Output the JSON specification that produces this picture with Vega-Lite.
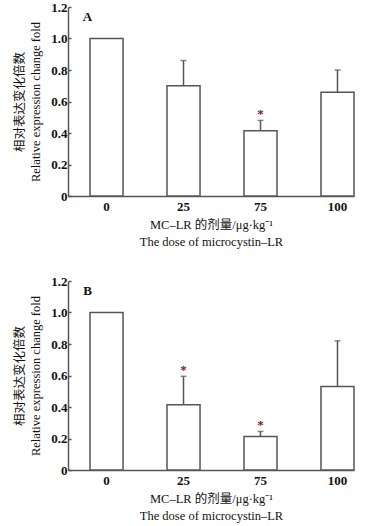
{
  "$schema": "https://vega.github.io/schema/vega-lite/v6.json",
  "padding": {"left": 13, "top": 1, "right": 5, "bottom": 2},
  "spacing": 27,
  "datasets": {
    "A": [
      {"dose": "0", "mean": 1.0, "hi": null, "sig": false},
      {"dose": "25", "mean": 0.70, "hi": 0.86, "sig": false},
      {"dose": "75", "mean": 0.415, "hi": 0.48, "sig": true},
      {"dose": "100", "mean": 0.658, "hi": 0.80, "sig": false}
    ],
    "B": [
      {"dose": "0", "mean": 1.0, "hi": null, "sig": false},
      {"dose": "25", "mean": 0.415, "hi": 0.595, "sig": true},
      {"dose": "75", "mean": 0.213, "hi": 0.245, "sig": true},
      {"dose": "100", "mean": 0.53, "hi": 0.82, "sig": false}
    ]
  },
  "config": {
    "font": "Liberation Serif",
    "view": {"stroke": null},
    "axis": {"grid": false, "domainColor": "#555", "domainWidth": 1.5, "tickColor": "#555", "tickWidth": 1.5, "labelColor": "#111", "titleColor": "#111", "labelFont": "Liberation Serif", "titleFont": "Liberation Serif, Noto Sans CJK SC"},
    "axisY": {"labelOverlap": false, "tickCount": 7, "labelFontWeight": "bold", "labelFontSize": 13, "tickSize": -3, "labelPadding": 4, "titleFontSize": 12.5, "titleFontWeight": "normal", "titleLineHeight": 16, "titlePadding": 8}
  },
  "vconcat": [
    {
      "data": {"name": "A"},
      "width": 286,
      "height": 189,
      "encoding": {
        "x": {"field": "dose", "type": "nominal", "sort": ["0", "25", "75", "100"],
          "scale": {"paddingInner": 0.571, "paddingOuter": 0.143, "align": 1},
          "axis": {"title": ["MC–LR 的剂量/μg·kg⁻¹", "The dose of microcystin–LR"], "labelAngle": 0, "ticks": false, "labelFontWeight": "bold", "labelFontSize": 13, "labelPadding": 4, "titleFontSize": 12.5, "titleFontWeight": "normal", "titlePadding": 5, "titleLineHeight": 17}}
      },
      "layer": [
        {"mark": {"type": "bar", "fill": "white", "stroke": "#555", "strokeWidth": 1.5},
         "encoding": {"y": {"field": "mean", "type": "quantitative", "scale": {"domain": [0, 1.2]},
           "axis": {"values": [0, 0.2, 0.4, 0.6, 0.8, 1.0, 1.2], "labelExpr": "datum.value == 0 ? '0' : format(datum.value, '.1f')", "title": ["相对表达变化倍数", "Relative expression change fold"]}}}},
        {"transform": [{"filter": "datum.hi != null"}], "mark": {"type": "rule", "stroke": "#555", "strokeWidth": 1.5},
         "encoding": {"y": {"field": "mean", "type": "quantitative"}, "y2": {"field": "hi"}}},
        {"transform": [{"filter": "datum.hi != null"}], "mark": {"type": "tick", "orient": "horizontal", "size": 6, "thickness": 1.5, "color": "#555"},
         "encoding": {"y": {"field": "hi", "type": "quantitative"}}},
        {"transform": [{"filter": "datum.sig"}], "mark": {"type": "text", "text": "*", "color": "#7a2020", "fontSize": 13, "fontWeight": "bold", "baseline": "alphabetic", "dy": -2},
         "encoding": {"y": {"field": "hi", "type": "quantitative"}}},
        {"data": {"values": [{"label": "A"}]}, "mark": {"type": "text", "fontWeight": "bold", "fontSize": 13, "dx": -19, "dy": 10, "color": "#111"},
         "encoding": {"x": {"datum": "0"}, "y": {"datum": 1.2}, "text": {"field": "label"}}}
      ]
    },
    {
      "data": {"name": "B"},
      "width": 286,
      "height": 189,
      "encoding": {
        "x": {"field": "dose", "type": "nominal", "sort": ["0", "25", "75", "100"],
          "scale": {"paddingInner": 0.571, "paddingOuter": 0.143, "align": 1},
          "axis": {"title": ["MC–LR 的剂量/μg·kg⁻¹", "The dose of microcystin–LR"], "labelAngle": 0, "ticks": false, "labelFontWeight": "bold", "labelFontSize": 13, "labelPadding": 4, "titleFontSize": 12.5, "titleFontWeight": "normal", "titlePadding": 5, "titleLineHeight": 17}}
      },
      "layer": [
        {"mark": {"type": "bar", "fill": "white", "stroke": "#555", "strokeWidth": 1.5},
         "encoding": {"y": {"field": "mean", "type": "quantitative", "scale": {"domain": [0, 1.2]},
           "axis": {"values": [0, 0.2, 0.4, 0.6, 0.8, 1.0, 1.2], "labelExpr": "datum.value == 0 ? '0' : format(datum.value, '.1f')", "title": ["相对表达变化倍数", "Relative expression change fold"]}}}},
        {"transform": [{"filter": "datum.hi != null"}], "mark": {"type": "rule", "stroke": "#555", "strokeWidth": 1.5},
         "encoding": {"y": {"field": "mean", "type": "quantitative"}, "y2": {"field": "hi"}}},
        {"transform": [{"filter": "datum.hi != null"}], "mark": {"type": "tick", "orient": "horizontal", "size": 6, "thickness": 1.5, "color": "#555"},
         "encoding": {"y": {"field": "hi", "type": "quantitative"}}},
        {"transform": [{"filter": "datum.sig"}], "mark": {"type": "text", "text": "*", "color": "#7a2020", "fontSize": 13, "fontWeight": "bold", "baseline": "alphabetic", "dy": -2},
         "encoding": {"y": {"field": "hi", "type": "quantitative"}}},
        {"data": {"values": [{"label": "B"}]}, "mark": {"type": "text", "fontWeight": "bold", "fontSize": 13, "dx": -19, "dy": 10, "color": "#111"},
         "encoding": {"x": {"datum": "0"}, "y": {"datum": 1.2}, "text": {"field": "label"}}}
      ]
    }
  ]
}
